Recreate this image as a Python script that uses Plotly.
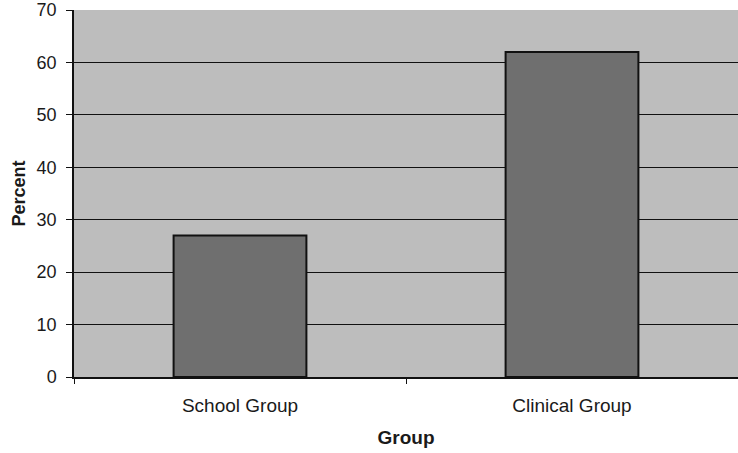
import plotly.graph_objects as go

groups = ["School Group", "Clinical Group"]
percent = [27, 62]
y_ticks = [0, 10, 20, 30, 40, 50, 60, 70]

fig = go.Figure(
    go.Bar(
        x=groups,
        y=percent,
        marker=dict(color="#6f6f6f", line=dict(color="#111111", width=2)),
        width=0.4,
    )
)

fig.update_layout(
    width=738,
    height=453,
    margin=dict(l=74, r=0, t=10, b=76),
    paper_bgcolor="white",
    plot_bgcolor="#bdbdbd",
    font=dict(family="Liberation Sans, Arial, sans-serif", color="#1a1a1a", size=18),
    showlegend=False,
)

fig.update_xaxes(
    range=[-0.5, 1.5],
    tickson="boundaries",
    ticks="outside",
    ticklen=5,
    tickcolor="#111111",
    ticklabelstandoff=10,
    showline=True,
    linecolor="#111111",
    linewidth=1.5,
    showgrid=False,
    tickfont=dict(size=19),
    title=dict(text="<b>Group</b>", font=dict(size=19), standoff=16),
)

fig.update_yaxes(
    range=[0, 70],
    tickvals=y_ticks,
    ticks="outside",
    ticklen=6,
    tickcolor="#111111",
    ticklabelstandoff=6,
    showline=True,
    linecolor="#111111",
    linewidth=1.5,
    showgrid=True,
    gridcolor="#111111",
    gridwidth=1,
    zeroline=False,
    tickfont=dict(size=18),
    title=dict(text="<b>Percent</b>", font=dict(size=18), standoff=6),
)

fig.write_html("out.html")
